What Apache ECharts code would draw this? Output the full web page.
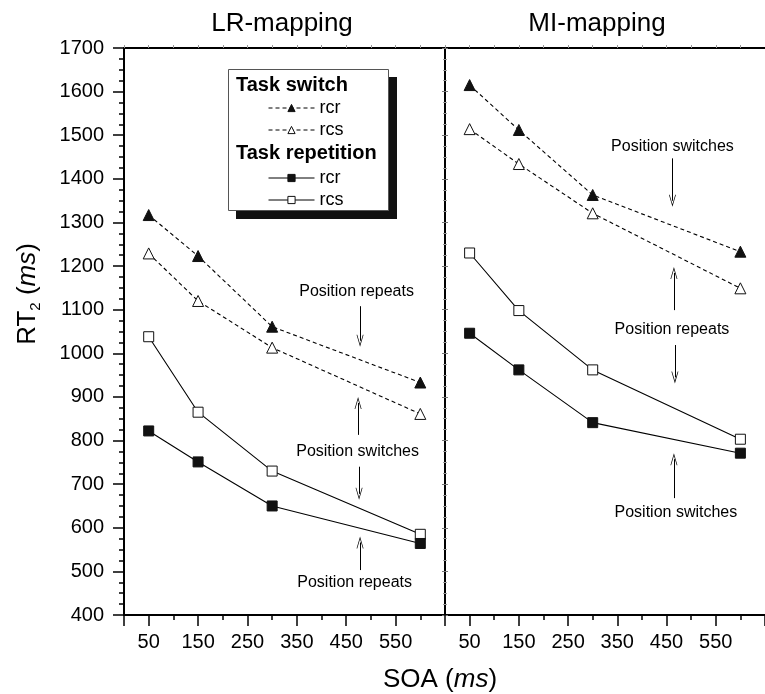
<!DOCTYPE html>
<html>
<head>
<meta charset="utf-8">
<script src="https://cdn.jsdelivr.net/npm/echarts@6/dist/echarts.min.js"></script>
<style>
html, body { margin: 0; padding: 0; background: #fff; }
#chart { width: 765px; height: 694px; }
</style>
</head>
<body>
<div id="chart"></div>
<script>
// SOA levels (ms)
var soa = [50, 150, 300, 600];
var xLabelValues = [50, 150, 250, 350, 450, 550];
var xMajorTicks = [0, 50, 150, 250, 350, 450, 550, 650];
var xMinorTicks = [100, 200, 300, 400, 500, 600];

// LR-mapping
var lrSwitchRcr = [1317, 1223, 1061, 933];
var lrSwitchRcs = [1229, 1120, 1013, 861];
var lrRepRcs = [1038, 865, 730, 585];
var lrRepRcr = [822, 751, 650, 564];

// MI-mapping
var miSwitchRcr = [1615, 1512, 1363, 1233];
var miSwitchRcs = [1514, 1434, 1321, 1149];
var miRepRcs = [1230, 1098, 962, 803];
var miRepRcr = [1046, 962, 841, 771];

// annotations: [x, y, text] and arrows [x, from, tip]
var lrNotes = [[471, 1141, 'Position repeats'], [473, 774, 'Position switches'], [467, 474, 'Position repeats']];
var lrArrows = [[478, 1108, 1015], [474, 813, 900], [476, 740, 664], [478, 503, 580]];
var miNotes = [[462, 1475, 'Position switches'], [461, 1055, 'Position repeats'], [469, 634, 'Position switches']];
var miArrows = [[462, 1447, 1336], [465, 1099, 1198], [467, 1019, 931], [465, 668, 771]];

var FONT = 'Liberation Sans, Arial, Helvetica, sans-serif';
var arrowPath = 'path://M5,0 L10,12 L9,12 L5,2.6 L1,12 L0,12 Z';
var pxPerUnit = 567 / 1300; // y pixels per ms, used to pull the line end into the arrow head

var chart = echarts.init(document.getElementById('chart'));

function lineSeries(name, values, idx, dashed, symbol, filled) {
    return {
        name: name,
        type: 'line',
        xAxisIndex: idx,
        yAxisIndex: idx,
        data: soa.map(function (x, i) { return [x, values[i]]; }),
        symbol: symbol,
        symbolSize: symbol === 'triangle' ? 11 : 10,
        showAllSymbol: true,
        lineStyle: { color: '#000', width: 1.1, type: dashed ? [4, 3] : 'solid' },
        itemStyle: { color: filled ? '#111' : '#fff', borderColor: '#111', borderWidth: 1 },
        z: filled ? 4 : 3
    };
}

function addNotes(series, notes, arrows) {
    series.markPoint = {
        silent: true,
        animation: false,
        symbol: 'rect',
        symbolSize: 1,
        itemStyle: { color: 'rgba(0,0,0,0)' },
        label: { show: true, position: 'inside', formatter: '{b}', color: '#000', fontSize: 16, fontFamily: FONT },
        data: notes.map(function (n) { return { name: n[2], coord: [n[0], n[1]] }; })
    };
    series.markLine = {
        silent: true,
        animation: false,
        symbol: ['none', arrowPath],
        symbolSize: [7, 12],
        lineStyle: { color: '#000', width: 1, type: 'solid' },
        label: { show: false },
        data: arrows.map(function (a) {
            var dir = a[2] > a[1] ? 1 : -1;
            var end = a[2] - dir * 6 / pxPerUnit;
            return [{ coord: [a[0], a[1]] }, { coord: [a[0], end] }];
        })
    };
    return series;
}

function bottomAxis(grid) {
    return {
        type: 'value', gridIndex: grid, position: 'bottom', min: 0, max: 650, interval: 50,
        axisLine: { show: true, onZero: false, lineStyle: { color: '#000', width: 2 } },
        axisTick: { show: true, customValues: xMajorTicks, length: 11, lineStyle: { color: '#000', width: 1.5 } },
        axisLabel: { show: true, customValues: xLabelValues, color: '#000', fontSize: 20, fontFamily: FONT, margin: 17 },
        splitLine: { show: false }
    };
}

function minorXAxis(grid) {
    return {
        type: 'value', gridIndex: grid, position: 'bottom', min: 0, max: 650, interval: 50,
        axisLine: { show: false },
        axisTick: { show: true, customValues: xMinorTicks, length: 5, lineStyle: { color: '#000', width: 1.5 } },
        axisLabel: { show: false },
        splitLine: { show: false }
    };
}

function topAxis(grid) {
    return {
        type: 'value', gridIndex: grid, position: 'top', min: 0, max: 650, interval: 50,
        axisLine: { show: true, onZero: false, lineStyle: { color: '#000', width: 2 } },
        axisTick: { show: true, length: 3, lineStyle: { color: '#999', width: 1 } },
        axisLabel: { show: false },
        splitLine: { show: false }
    };
}

function sideAxis(grid, pos) {
    return {
        type: 'value', gridIndex: grid, position: pos, min: 400, max: 1700, interval: 100,
        axisLine: { show: true, onZero: false, lineStyle: { color: '#000', width: 2 } },
        axisTick: { show: true, inside: true, length: 3, lineStyle: { color: '#777', width: 1 } },
        minorTick: { show: true, splitNumber: 4, length: 2, lineStyle: { color: '#999', width: 1 } },
        axisLabel: { show: false },
        splitLine: { show: false }
    };
}

var series = [
    addNotes(lineSeries('Task switch rcr', lrSwitchRcr, 0, true, 'triangle', true), lrNotes, lrArrows),
    lineSeries('Task switch rcs', lrSwitchRcs, 0, true, 'triangle', false),
    lineSeries('Task repetition rcs', lrRepRcs, 0, false, 'rect', false),
    lineSeries('Task repetition rcr', lrRepRcr, 0, false, 'rect', true),
    addNotes(lineSeries('Task switch rcr', miSwitchRcr, 1, true, 'triangle', true), miNotes, miArrows),
    lineSeries('Task switch rcs', miSwitchRcs, 1, true, 'triangle', false),
    lineSeries('Task repetition rcs', miRepRcs, 1, false, 'rect', false),
    lineSeries('Task repetition rcr', miRepRcr, 1, false, 'rect', true)
];

var legendBase = {
    orient: 'vertical',
    left: 268,
    itemWidth: 46,
    itemHeight: 9,
    itemGap: 4,
    padding: 0,
    selectedMode: false,
    textStyle: { color: '#000', fontSize: 18, fontFamily: FONT, lineHeight: 18 },
    itemStyle: { borderWidth: 1 },
    lineStyle: { width: 1 },
    formatter: function (name) { return name.split(' ').pop(); }
};

var option = {
    animation: false,
    backgroundColor: '#fff',
    grid: [
        { left: 124, top: 48, width: 321, height: 567 },
        { left: 445, top: 48, width: 321, height: 567 }
    ],
    xAxis: [bottomAxis(0), bottomAxis(1), minorXAxis(0), minorXAxis(1), topAxis(0), topAxis(1)],
    yAxis: [
        {
            type: 'value', gridIndex: 0, position: 'left', min: 400, max: 1700, interval: 100,
            axisLine: { show: true, onZero: false, lineStyle: { color: '#000', width: 2 } },
            axisTick: { show: true, length: 11, lineStyle: { color: '#000', width: 1.5 } },
            minorTick: { show: true, splitNumber: 4, length: 5, lineStyle: { color: '#000', width: 1.5 } },
            axisLabel: { color: '#000', fontSize: 20, fontFamily: FONT, margin: 20, formatter: function (v) { return String(v); } },
            splitLine: { show: false }
        },
        sideAxis(1, 'left'),
        sideAxis(0, 'right')
    ],
    legend: [
        Object.assign({}, legendBase, { top: 99, data: ['Task switch rcr', 'Task switch rcs'] }),
        Object.assign({}, legendBase, { top: 169, data: ['Task repetition rcr', 'Task repetition rcs'] })
    ],
    graphic: [
        { type: 'rect', z: 1, shape: { x: 236, y: 77, width: 161, height: 142 }, style: { fill: '#111' } },
        { type: 'rect', z: 1, shape: { x: 228.5, y: 69.5, width: 160, height: 141 }, style: { fill: '#fff', stroke: '#555', lineWidth: 1 } },
        { type: 'text', z: 5, x: 236, y: 85, style: { text: 'Task switch', fill: '#000', font: 'bold 20px ' + FONT, verticalAlign: 'middle' } },
        { type: 'text', z: 5, x: 236, y: 153, style: { text: 'Task repetition', fill: '#000', font: 'bold 20px ' + FONT, verticalAlign: 'middle' } },
        { type: 'text', x: 282, y: 24, style: { text: 'LR-mapping', fill: '#000', font: '26px ' + FONT, align: 'center', verticalAlign: 'middle' } },
        { type: 'text', x: 597, y: 24, style: { text: 'MI-mapping', fill: '#000', font: '26px ' + FONT, align: 'center', verticalAlign: 'middle' } },
        {
            type: 'text', x: 440, y: 680,
            style: {
                text: '{n|SOA (}{i|ms}{n|)}', align: 'center', verticalAlign: 'middle',
                rich: {
                    n: { fontSize: 26, fontFamily: FONT, color: '#000' },
                    i: { fontSize: 26, fontFamily: FONT, fontStyle: 'italic', color: '#000' }
                }
            }
        },
        {
            type: 'text', x: 28, y: 294, rotation: Math.PI / 2,
            style: {
                text: '{n|RT}{s|2}{n| (}{i|ms}{n|)}', align: 'center', verticalAlign: 'middle',
                rich: {
                    n: { fontSize: 26, fontFamily: FONT, lineHeight: 30, color: '#000' },
                    s: { fontSize: 15, fontFamily: FONT, lineHeight: 30, verticalAlign: 'bottom', color: '#000' },
                    i: { fontSize: 26, fontFamily: FONT, fontStyle: 'italic', lineHeight: 30, color: '#000' }
                }
            }
        }
    ],
    series: series
};

chart.setOption(option);
</script>
</body>
</html>
